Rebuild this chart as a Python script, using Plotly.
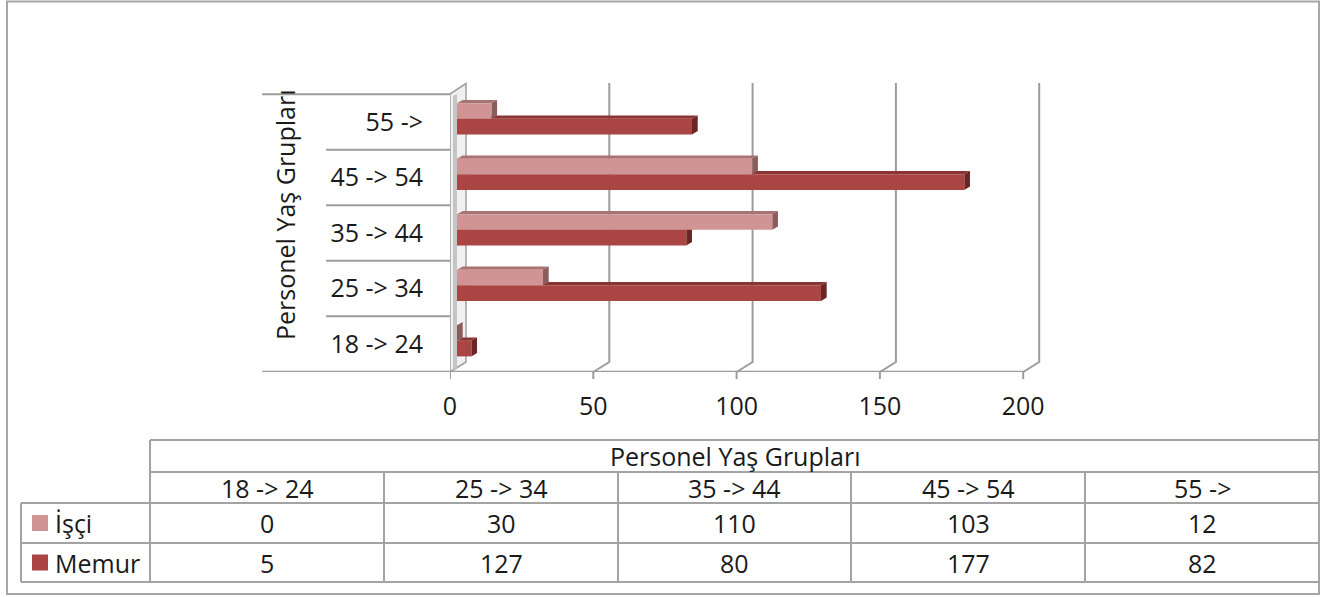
import plotly.graph_objects as go

# ---------------- data ----------------
categories = ["18 -> 24", "25 -> 34", "35 -> 44", "45 -> 54", "55 ->"]
isci = [0, 30, 110, 103, 12]
memur = [5, 127, 80, 177, 82]
series_names = ["İşçi", "Memur"]
x_ticks = [0, 50, 100, 150, 200]
axis_title = "Personel Yaş Grupları"

# ---------------- layout constants (pixels) ----------------
W, H = 1321, 597
L, R, T, B = 450, 261, 80, 225
PW, PH = W - L - R, H - T - B
X0_PX, PXU = 457.0, 2.866      # bar zero position and px per unit
Y0_PX, BAND = 343.9, 55.5      # centre of first category and band height
XMIN = (L - X0_PX) / PXU
XMAX = (L + PW - X0_PX) / PXU
YMAX = (Y0_PX - T) / BAND
YMIN = (Y0_PX - (T + PH)) / BAND


def px(xp):
    return (xp - L) / PW


def py(yp):
    return (T + PH - yp) / PH


def ux(d):
    return d / PXU


def uy(d):
    return d / BAND


FONT = "Open Sans"
FS = 25
TXT = "#1a1a1a"
GRID = "#9c9c9c"
TBL = "#a3a3a3"

COL = {
    "İşçi": dict(front="#d19494", top="#a87373", side="#8a5c5c"),
    "Memur": dict(front="#a94543", top="#8a3533", side="#6a2624"),
}
OFFSET = {"İşçi": 0.055, "Memur": -0.225}
BW = 0.28
DX, DY = ux(5.7), uy(3.4)

pos = list(range(len(categories)))
values = {"İşçi": isci, "Memur": memur}

fig = go.Figure()

# draw Memur first so İşçi (front row) sits above it
for name in ["Memur", "İşçi"]:
    fig.add_trace(go.Bar(
        y=pos, x=values[name], orientation="h", name=name,
        offset=OFFSET[name], width=BW,
        marker=dict(color=COL[name]["front"], line=dict(width=0)),
        showlegend=False,
        hovertemplate=name + ": %{x}<extra></extra>",
    ))

shapes = []

# outer frame
shapes.append(dict(type="rect", xref="paper", yref="paper",
                   x0=px(7), x1=px(1319), y0=py(594), y1=py(1.5),
                   line=dict(color="#a6a6a6", width=2), layer="below"))

# left wall
wf, wb = -ux(7), ux(9)
shapes.append(dict(type="path", xref="x", yref="paper",
                   path=f"M {wf},{py(372)} L {wf},{py(94)} L {wb},{py(83.5)} L {wb},{py(362)} Z",
                   fillcolor="#f0f0f0", line=dict(color="#a0a0a0", width=1.5), layer="below"))
shapes.append(dict(type="path", xref="x", yref="paper",
                   path=f"M {wf + ux(3)},{py(370)} L {wf + ux(3)},{py(96)} L {wf + ux(7)},{py(94)} L {wf + ux(7)},{py(368)} Z",
                   fillcolor="#c4c4c4", line=dict(width=0), layer="below"))

# back gridlines with slanted floor part, and tick marks
for t in x_ticks:
    if t > 0:
        shapes.append(dict(type="path", xref="x", yref="paper",
                           path=f"M {t + ux(9)},{py(83)} L {t + ux(9)},{py(362)} L {t - ux(7)},{py(372)}",
                           line=dict(color=GRID, width=2), layer="below"))
    shapes.append(dict(type="line", xref="x", yref="paper",
                       x0=t - ux(7), x1=t - ux(7), y0=py(372), y1=py(379),
                       line=dict(color=GRID, width=2), layer="below"))

# category boundary lines
n = len(categories)
for k in range(n + 1):
    yb = k - 0.5
    if k == 0:
        x0p, x1p = px(262), px(X0_PX + (x_ticks[-1] - ux(7)) * PXU)
    elif k == n:
        x0p, x1p = px(262), px(450)
    else:
        x0p, x1p = px(326), px(450)
    shapes.append(dict(type="line", xref="paper", yref="y",
                       x0=x0p, x1=x1p, y0=yb, y1=yb,
                       line=dict(color=GRID, width=2), layer="below"))

# 3D faces of bars
for name in ["Memur", "İşçi"]:
    for i, v in enumerate(values[name]):
        y0 = pos[i] + OFFSET[name]
        y1 = y0 + BW
        shapes.append(dict(type="path", xref="x", yref="y",
                           path=f"M 0,{y1} L {DX},{y1 + DY} L {v + DX},{y1 + DY} L {v},{y1} Z",
                           fillcolor=COL[name]["top"], line=dict(width=0), layer="between"))
        shapes.append(dict(type="path", xref="x", yref="y",
                           path=f"M {v},{y0} L {v + DX},{y0 + DY} L {v + DX},{y1 + DY} L {v},{y1} Z",
                           fillcolor=COL[name]["side"], line=dict(width=0), layer="between"))

annotations = []
# axis title
annotations.append(dict(text=axis_title, xref="paper", yref="paper",
                        x=px(285), y=py(215), textangle=-90, showarrow=False,
                        xanchor="center", yanchor="middle",
                        font=dict(family=FONT, size=FS, color=TXT)))

# ---------------- data table ----------------
col_edges = [150, 384, 618, 851, 1085, 1319]
row_y = [440, 472, 503, 543, 582]
leg_x = 21


def hline(x0, x1, y):
    shapes.append(dict(type="line", xref="paper", yref="paper",
                       x0=px(x0), x1=px(x1), y0=py(y), y1=py(y),
                       line=dict(color=TBL, width=2)))


def vline(x, y0, y1):
    shapes.append(dict(type="line", xref="paper", yref="paper",
                       x0=px(x), x1=px(x), y0=py(y0), y1=py(y1),
                       line=dict(color=TBL, width=2)))


hline(col_edges[0], col_edges[-1], row_y[0])
hline(col_edges[0], col_edges[-1], row_y[1])
for y in row_y[2:]:
    hline(leg_x, col_edges[-1], y)
vline(col_edges[0], row_y[0], row_y[-1])
vline(leg_x, row_y[2], row_y[-1])
for x in col_edges[1:-1]:
    vline(x, row_y[1], row_y[-1])


def text(s, xp, yp, anchor="center"):
    annotations.append(dict(text=s, xref="paper", yref="paper", x=px(xp), y=py(yp),
                            xanchor=anchor, yanchor="middle", showarrow=False,
                            font=dict(family=FONT, size=FS, color=TXT)))


text(axis_title, (col_edges[0] + col_edges[-1]) / 2, (row_y[0] + row_y[1]) / 2)
for j, c in enumerate(categories):
    cx = (col_edges[j] + col_edges[j + 1]) / 2
    text(c, cx, (row_y[1] + row_y[2]) / 2)
    text(str(isci[j]), cx, (row_y[2] + row_y[3]) / 2)
    text(str(memur[j]), cx, (row_y[3] + row_y[4]) / 2)

for r, name in enumerate(series_names):
    yc = (row_y[2 + r] + row_y[3 + r]) / 2
    shapes.append(dict(type="rect", xref="paper", yref="paper",
                       x0=px(32), x1=px(48), y0=py(yc + 8), y1=py(yc - 8),
                       fillcolor=COL[name]["front"], line=dict(width=0)))
    text(name, 53, yc, anchor="left")

fig.update_layout(
    width=W, height=H,
    margin=dict(l=L, r=R, t=T, b=B, pad=0),
    paper_bgcolor="white", plot_bgcolor="rgba(0,0,0,0)",
    barmode="overlay",
    showlegend=False,
    font=dict(family=FONT, size=FS, color=TXT),
    xaxis=dict(range=[XMIN, XMAX], tickvals=x_ticks, ticktext=[str(t) for t in x_ticks],
               showgrid=False, zeroline=False, showline=False, ticks="",
               ticklabelshift=-7, ticklabelstandoff=17,
               tickfont=dict(family=FONT, size=FS, color=TXT), fixedrange=True),
    yaxis=dict(range=[YMIN, YMAX], tickvals=pos, ticktext=categories,
               showgrid=False, zeroline=False, showline=False, ticks="",
               ticklabelstandoff=26,
               tickfont=dict(family=FONT, size=FS, color=TXT), fixedrange=True),
    shapes=shapes,
    annotations=annotations,
)

fig.write_html("out.html", config={"displayModeBar": False},
               post_script="document.body.style.margin='0';document.body.style.overflow='hidden';")
